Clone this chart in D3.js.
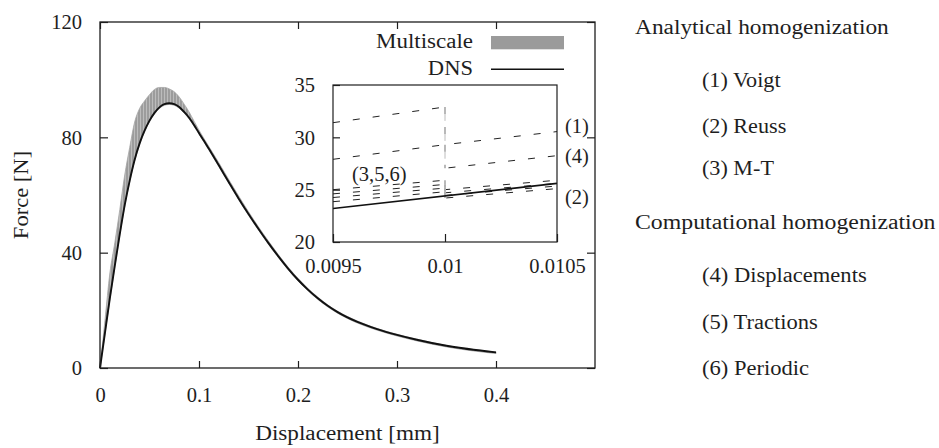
<!DOCTYPE html>
<html>
<head>
<meta charset="utf-8">
<script src="https://cdn.jsdelivr.net/npm/d3@7"></script>
<style>
  html, body { margin: 0; padding: 0; background: #fff; }
  svg { display: block; }
  svg text { fill: #1e1e1e; font-size: 20.5px; font-family: "Liberation Serif", "Tinos", "Times New Roman", Times, "DejaVu Serif", "Noto Serif", serif; }
</style>
</head>
<body>
<svg id="chart" width="939" height="448"></svg>
<script>
// ---- Force–displacement response (main plot) ----
const displacement = [0, 0.005, 0.01, 0.015, 0.02, 0.025, 0.03, 0.035, 0.04, 0.045, 0.05, 0.055,
  0.06, 0.065, 0.07, 0.075, 0.08, 0.085, 0.09, 0.095, 0.10, 0.105, 0.11, 0.12, 0.13, 0.14, 0.15,
  0.16, 0.17, 0.18, 0.19, 0.20, 0.21, 0.22, 0.23, 0.24, 0.26, 0.28, 0.30, 0.32, 0.35, 0.40];
const forceDNS = [0, 12.2, 24.3, 35.6, 46.5, 56.6, 65.0, 72.2, 77.9, 82.3, 85.8, 88.5,
  90.4, 91.5, 91.8, 91.5, 90.5, 88.8, 86.8, 84.3, 81.5, 78.8, 76.0, 70.3, 64.5, 58.8, 53.4,
  48.3, 43.4, 38.8, 34.5, 30.6, 27.2, 24.2, 21.6, 19.4, 16.0, 13.5, 11.5, 9.8, 7.7, 5.4];
// upper envelope of the multiscale responses (lower envelope follows the DNS curve)
const forceMultiscaleMax = [0, 16.5, 33.0, 43.5, 55.0, 67.0, 76.5, 85.3, 90.0, 92.6, 94.8, 96.6,
  97.3, 97.3, 96.8, 95.8, 94.0, 91.5, 88.8, 85.6, 82.5, 79.6, 76.8, 71.2, 65.4, 59.7, 54.2,
  49.0, 44.1, 39.4, 35.0, 31.1, 27.6, 24.6, 21.9, 19.7, 16.3, 13.7, 11.7, 10.0, 7.8, 5.5];

const xTicks = [0, 0.1, 0.2, 0.3, 0.4];
const yTicks = [0, 40, 80, 120];

// ---- Zoom window around u = 0.01 mm ----
const insetDisp = [0.0095, 0.01, 0.01, 0.0105];
const insetVoigt = [31.4, 32.9, 29.3, 30.55];          // (1)
const insetDisplacements = [27.9, 29.3, 27.05, 28.25]; // (4)
const insetMT = [25.0, 25.9, 25.0, 25.9];              // (3)
const insetTractions = [24.6, 25.5, 24.7, 25.6];       // (5)
const insetPeriodic = [24.25, 25.15, 24.45, 25.35];    // (6)
const insetReuss = [23.85, 24.8, 24.2, 25.1];          // (2)
const insetDNSDisp = [0.0095, 0.0105];
const insetDNS = [23.2, 25.6];

const insetXTicks = [0.0095, 0.01, 0.0105];
const insetYTicks = [20, 25, 30, 35];

const legendLabels = ["Multiscale", "DNS"];
const sideHeadings = ["Analytical homogenization", "Computational homogenization"];
const analyticalItems = ["(1) Voigt", "(2) Reuss", "(3) M-T"];
const computationalItems = ["(4) Displacements", "(5) Tractions", "(6) Periodic"];

// ---------------------------------------------------------------
const svg = d3.select("#chart");
const INK = "#1e1e1e";
const fmt = d3.format("");

// word labels are set slightly wider, like a book serif
function widen(sel, k) {
  sel.each(function () {
    const L = this.getComputedTextLength();
    d3.select(this).attr("textLength", L * k).attr("lengthAdjust", "spacingAndGlyphs");
  });
}

const P = { left: 100, right: 595, top: 22, bottom: 368 };
const x = d3.scaleLinear().domain([0, 0.5]).range([P.left, P.right]);
const y = d3.scaleLinear().domain([0, 120]).range([P.bottom, P.top]);

// striped grey fill for the multiscale band
const defs = svg.append("defs");
const pat = defs.append("pattern").attr("id", "stripes")
  .attr("patternUnits", "userSpaceOnUse").attr("width", 3).attr("height", 4);
pat.append("rect").attr("width", 3).attr("height", 4).attr("fill", "#9c9c9c");
pat.append("rect").attr("x", 2).attr("width", 1).attr("height", 4).attr("fill", "#bcbcbc");

const mainData = displacement.map((d, i) => ({ u: d, dns: forceDNS[i], hi: forceMultiscaleMax[i] }));

// multiscale band
svg.append("path")
  .datum(mainData)
  .attr("fill", "url(#stripes)")
  .attr("stroke", "#a5a5a5").attr("stroke-width", 0.8)
  .attr("d", d3.area().curve(d3.curveMonotoneX)
    .x(d => x(d.u)).y0(d => y(Math.max(0, d.dns - 0.4))).y1(d => y(d.hi)));

// DNS curve
svg.append("path")
  .datum(mainData)
  .attr("fill", "none").attr("stroke", "#111").attr("stroke-width", 1.9)
  .attr("d", d3.line().curve(d3.curveMonotoneX).x(d => x(d.u)).y(d => y(d.dns)));

// axes (ticks point inward, mirrored on top/right)
function styleAxis(g) {
  g.attr("font-family", null).attr("font-size", null);
  g.select(".domain").remove();
  g.selectAll(".tick line").attr("stroke", INK).attr("stroke-width", 1.2);
  g.selectAll(".tick text").attr("fill", INK);
}
svg.append("g").attr("transform", `translate(0,${P.bottom})`)
  .call(d3.axisBottom(x).tickValues(xTicks).tickSize(-7).tickFormat(fmt))
  .call(styleAxis)
  .call(g => g.selectAll(".tick text").attr("dy", null).attr("y", 33.5));
svg.append("g").attr("transform", `translate(0,${P.top})`)
  .call(d3.axisTop(x).tickValues(xTicks).tickSize(-7).tickFormat(""))
  .call(styleAxis);
svg.append("g").attr("transform", `translate(${P.left},0)`)
  .call(d3.axisLeft(y).tickValues(yTicks).tickSize(-8).tickFormat(fmt))
  .call(styleAxis)
  .call(g => g.selectAll(".tick text").attr("x", -18).attr("dy", "0.33em"));
svg.append("g").attr("transform", `translate(${P.right},0)`)
  .call(d3.axisRight(y).tickValues(yTicks).tickSize(-8).tickFormat(""))
  .call(styleAxis);
svg.append("rect")
  .attr("x", P.left).attr("y", P.top)
  .attr("width", P.right - P.left).attr("height", P.bottom - P.top)
  .attr("fill", "none").attr("stroke", INK).attr("stroke-width", 1.3);

// axis titles
svg.append("text").attr("x", (P.left + P.right) / 2).attr("y", 440)
  .attr("text-anchor", "middle").text("Displacement [mm]").call(widen, 1.13);
svg.append("text").attr("transform", `translate(28,${(P.top + P.bottom) / 2}) rotate(-90)`)
  .attr("text-anchor", "middle").text("Force [N]").call(widen, 1.1);

// legend
const leg = svg.append("g");
leg.append("text").attr("x", 473).attr("y", 48).attr("text-anchor", "end")
  .text(legendLabels[0]).call(widen, 1.12);
leg.append("rect").attr("x", 491).attr("y", 36).attr("width", 73).attr("height", 13.3).attr("fill", "#9b9b9b");
leg.append("text").attr("x", 473).attr("y", 75).attr("text-anchor", "end")
  .text(legendLabels[1]).call(widen, 1.1);
leg.append("line").attr("x1", 491).attr("x2", 564).attr("y1", 69.3).attr("y2", 69.3)
  .attr("stroke", "#111").attr("stroke-width", 1.6);

// ---- inset ----
const I = { left: 333, right: 557, top: 85, bottom: 242 };
const xi = d3.scaleLinear().domain([0.0095, 0.0105]).range([I.left, I.right]);
const yi = d3.scaleLinear().domain([20, 35]).range([I.bottom, I.top]);

defs.append("clipPath").attr("id", "insetClip").append("rect")
  .attr("x", I.left).attr("y", I.top).attr("width", I.right - I.left).attr("height", I.bottom - I.top);

svg.append("rect").attr("x", I.left).attr("y", I.top)
  .attr("width", I.right - I.left).attr("height", I.bottom - I.top).attr("fill", "#fff");

const insetSeries = [insetVoigt, insetDisplacements, insetMT, insetTractions, insetPeriodic, insetReuss];
const insetLine = d3.line().x(d => xi(d[0])).y(d => yi(d[1]));
const ig = svg.append("g").attr("clip-path", "url(#insetClip)");
insetSeries.forEach(s => {
  const pts = insetDisp.map((u, i) => [u, s[i]]);
  // sloped pieces in dark dashes, the load-step drop in lighter dashes
  ig.append("path")
    .datum(pts)
    .attr("fill", "none").attr("stroke", "#222").attr("stroke-width", 1)
    .attr("stroke-dasharray", "7,13")
    .attr("d", insetLine);
  ig.append("path")
    .datum(pts.slice(1, 3))
    .attr("fill", "none").attr("stroke", "#fff").attr("stroke-width", 1.4)
    .attr("d", insetLine);
  ig.append("path")
    .datum(pts.slice(1, 3))
    .attr("fill", "none").attr("stroke", "#8a8a8a").attr("stroke-width", 1.2)
    .attr("stroke-dasharray", "7,13")
    .attr("d", insetLine);
});
ig.append("path")
  .datum(insetDNSDisp.map((u, i) => [u, insetDNS[i]]))
  .attr("fill", "none").attr("stroke", "#111").attr("stroke-width", 1.6)
  .attr("d", insetLine);

svg.append("g").attr("transform", `translate(0,${I.bottom})`)
  .call(d3.axisBottom(xi).tickValues(insetXTicks).tickSize(-8).tickFormat(fmt))
  .call(styleAxis)
  .call(g => g.selectAll(".tick text").attr("dy", null).attr("y", 31.3));
svg.append("g").attr("transform", `translate(${I.left},0)`)
  .call(d3.axisLeft(yi).tickValues(insetYTicks).tickSize(-7).tickFormat(fmt))
  .call(styleAxis)
  .call(g => g.selectAll(".tick text").attr("x", -18).attr("dy", "0.33em"));
svg.append("rect").attr("x", I.left).attr("y", I.top)
  .attr("width", I.right - I.left).attr("height", I.bottom - I.top)
  .attr("fill", "none").attr("stroke", INK).attr("stroke-width", 1.2);

// curve tags in the inset
svg.append("text").attr("x", 565).attr("y", 133).text("(1)");
svg.append("text").attr("x", 565).attr("y", 163).text("(4)");
svg.append("text").attr("x", 565).attr("y", 204).text("(2)");
svg.append("text").attr("x", 352).attr("y", 181).text("(3,5,6)");

// ---- method list ----
const side = svg.append("g");
side.append("text").attr("x", 635).attr("y", 34).text(sideHeadings[0]).call(widen, 1.14);
analyticalItems.forEach((t, i) => {
  side.append("text").attr("x", 702).attr("y", [86.5, 132.5, 175][i]).text(t).call(widen, 1.08);
});
side.append("text").attr("x", 635).attr("y", 229).text(sideHeadings[1]).call(widen, 1.16);
computationalItems.forEach((t, i) => {
  side.append("text").attr("x", 702).attr("y", [281.5, 328.5, 375][i]).text(t).call(widen, 1.1);
});
</script>
</body>
</html>
